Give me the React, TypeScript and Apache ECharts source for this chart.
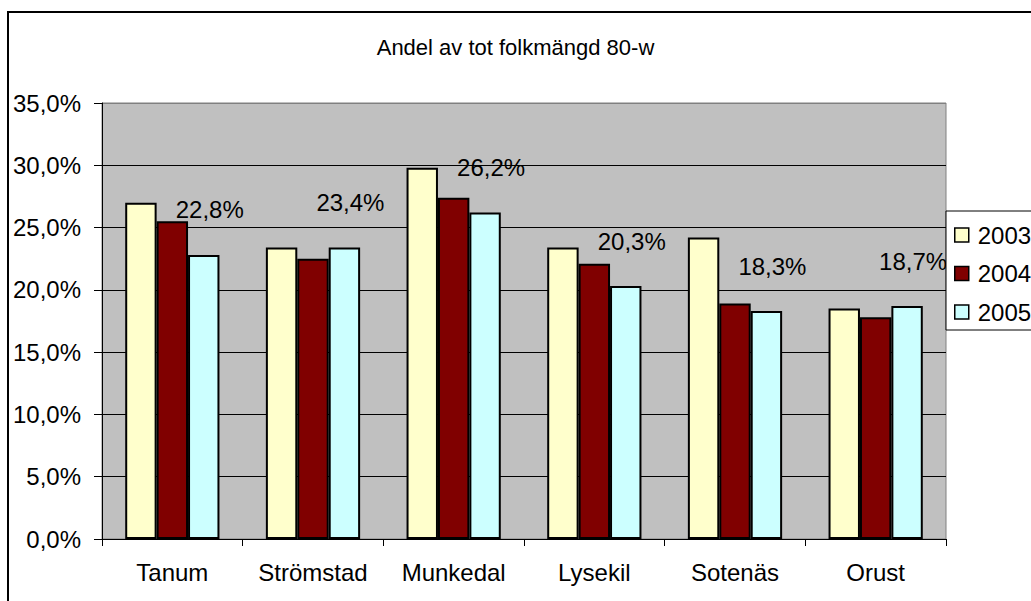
import React, { useEffect, useRef } from "react";
import * as echarts from "echarts";

const categories = ["Tanum", "Strömstad", "Munkedal", "Lysekil", "Sotenäs", "Orust"];
const seriesNames = ["2003", "2004", "2005"];
const values2003 = [27.0, 23.4, 29.8, 23.4, 24.2, 18.5];
const values2004 = [25.5, 22.5, 27.4, 22.1, 18.9, 17.8];
const values2005 = [22.8, 23.4, 26.2, 20.3, 18.3, 18.7];
const seriesColors = ["#FFFFCC", "#800000", "#CCFFFF"];
const titleText = "Andel av tot folkmängd 80-w";

const FONT = "'Liberation Sans', Arial, sans-serif";
const fmt = (v: number) => v.toFixed(1).replace(".", ",") + "%";

export default function App() {
  const ref = useRef<HTMLDivElement>(null);
  useEffect(() => {
    if (!ref.current) return;
    const chart = echarts.init(ref.current, null, { renderer: "svg" });
    const allValues = [values2003, values2004, values2005];
    chart.setOption({
      animation: false,
      backgroundColor: "#ffffff",
      textStyle: { fontFamily: FONT },
      title: {
        text: titleText,
        left: "center",
        top: 31,
        textStyle: { fontFamily: FONT, fontSize: 22, fontWeight: "normal", color: "#000" },
      },
      graphic: [
        {
          type: "rect",
          shape: { x: 8, y: 12, width: 1100, height: 700 },
          style: { fill: "none", stroke: "#000", lineWidth: 2 },
          silent: true,
          z: 100,
        },
      ],
      legend: {
        orient: "vertical",
        left: 946,
        top: 211,
        padding: [11, 80, 5, 8],
        itemGap: 12.5,
        itemWidth: 14,
        itemHeight: 14,
        icon: "rect",
        backgroundColor: "#fff",
        borderColor: "#000",
        borderWidth: 1,
        itemStyle: { borderColor: "#000", borderWidth: 1.5 },
        textStyle: { fontFamily: FONT, fontSize: 24, color: "#000", lineHeight: 26, padding: [0, 0, 0, 4] },
        data: seriesNames,
      },
      grid: {
        left: 102,
        top: 103,
        right: 85,
        bottom: 62,
        show: true,
        backgroundColor: "#C0C0C0",
        borderColor: "#808080",
        borderWidth: 1,
      },
      xAxis: {
        type: "category",
        data: categories,
        axisLine: { lineStyle: { color: "#000", width: 1 } },
        axisTick: { show: true, interval: 0, length: 7, lineStyle: { color: "#000" } },
        axisLabel: { fontFamily: FONT, fontSize: 24, color: "#000", margin: 21, interval: 0, hideOverlap: false },
      },
      yAxis: {
        type: "value",
        min: 0,
        max: 35,
        interval: 5,
        axisLine: { show: true, lineStyle: { color: "#000", width: 1 } },
        axisTick: { show: true, length: 8, lineStyle: { color: "#000" } },
        axisLabel: { fontFamily: FONT, fontSize: 24, color: "#000", margin: 21, formatter: (v: number) => fmt(v) },
        splitLine: {
          show: true,
          lineStyle: {
            color: ["#000", "#000", "#000", "#000", "#000", "#000", "#000", "#808080"],
            width: 1,
          },
        },
      },
      series: seriesNames.map((name, i) => ({
        name,
        type: "bar",
        data: allValues[i],
        barGap: "0%",
        barCategoryGap: "33%",
        itemStyle: { color: seriesColors[i], borderColor: "#000", borderWidth: 2 },
        label:
          i === 2
            ? {
                show: true,
                position: "top",
                distance: 33,
                offset: [6, 0],
                fontFamily: FONT,
                fontSize: 24,
                color: "#000",
                formatter: (p: any) => fmt(p.value),
              }
            : { show: false },
      })),
    });
    return () => chart.dispose();
  }, []);
  return (
    <div
      ref={ref}
      style={{ position: "absolute", left: 0, top: 0, width: 1031, height: 601 }}
    />
  );
}
